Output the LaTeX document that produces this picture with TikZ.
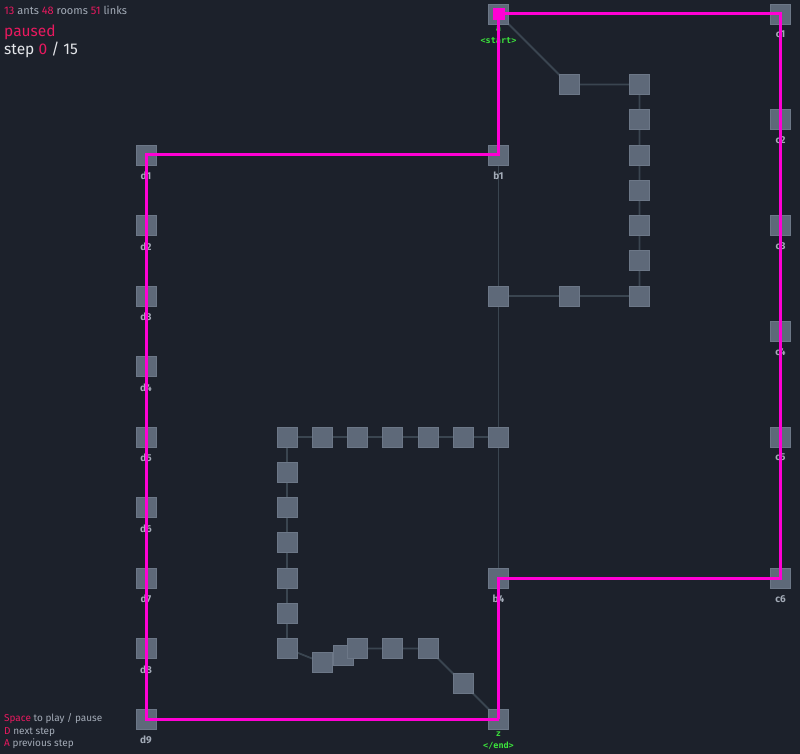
\documentclass[tikz,border=0pt]{standalone}
\usepackage{fontspec}
\setmainfont{Fira Sans}
\newfontfamily\termfont{DejaVu Sans Mono}
\usetikzlibrary{positioning}
\pgfdeclarelayer{canvas}
\pgfdeclarelayer{links}
\pgfsetlayers{canvas,links,main}

\definecolor{bgdark}{HTML}{1C212B}
\definecolor{roomfill}{HTML}{5E6979}
\definecolor{roomedge}{HTML}{6C7787}
\definecolor{linkgray}{HTML}{3A4550}
\definecolor{antpink}{HTML}{FF00D4}
\definecolor{hotpink}{HTML}{E8195F}
\definecolor{lblgray}{HTML}{A3ABB7}
\definecolor{termgreen}{HTML}{3CE63C}
\definecolor{txtwhite}{HTML}{E4E6EA}

\begin{document}
\begin{tikzpicture}[
  x=35.25pt, y=-35.25pt,
  room/.style={draw=roomedge, fill=roomfill, line width=0.8pt, minimum size=20pt, inner sep=0pt},
  lbl/.style={font=\bfseries\fontsize{10}{12}\selectfont, text=lblgray, inner sep=0pt},
  term/.style={font=\termfont\bfseries\fontsize{8.5}{12}\selectfont, text=termgreen, align=center, inner sep=0pt},
  link/.style={draw=linkgray, line width=1.8pt},
  route/.style={draw=antpink, line width=3pt, line join=miter},
  hud/.style={anchor=base west, inner sep=0pt, text=lblgray},
  label distance=6.5pt
]
\begin{pgfonlayer}{canvas}
\path[use as bounding box, fill=bgdark] (-146pt,14pt) rectangle (654pt,-740pt);
\end{pgfonlayer}

% status and help text
\node[hud, font=\fontsize{11}{13}\selectfont] (stats) at (-142pt,-1pt) {\textcolor{hotpink}{13} ants \textcolor{hotpink}{48} rooms \textcolor{hotpink}{51} links};
\node[hud, font=\fontsize{15.5}{18}\selectfont, text=hotpink] (state) at (-142pt,-23pt) {paused};
\node[hud, font=\fontsize{15.5}{18}\selectfont, text=txtwhite] (stepcount) at (-142pt,-41pt) {step \textcolor{hotpink}{0} / 15};
\node[hud, font=\fontsize{10}{12}\selectfont] (help1) at (-142pt,-707pt) {\textcolor{hotpink}{Space} to play / pause};
\node[hud, font=\fontsize{10}{12}\selectfont] (help2) at (-142pt,-720pt) {\textcolor{hotpink}{D} next step};
\node[hud, font=\fontsize{10}{12}\selectfont] (help3) at (-142pt,-732pt) {\textcolor{hotpink}{A} previous step};

% start and end
\node[room, label={[term, label distance=2pt]below:{a\\<start>}}] (a) at (10,0) {};
\node[room, label={[term, label distance=2pt]below:{z\\</end>}}] (z) at (10,20) {};

% right column
\node[room, label={[lbl]below:c1}] (c1) at (18,0) {};
\node[room, label={[lbl]below:c2}] (c2) at (18,3) {};
\node[room, label={[lbl]below:c3}] (c3) at (18,6) {};
\node[room, label={[lbl]below:c4}] (c4) at (18,9) {};
\node[room, label={[lbl]below:c5}] (c5) at (18,12) {};
\node[room, label={[lbl]below:c6}] (c6) at (18,16) {};

% left column
\node[room, label={[lbl]below:d1}] (d1) at (0,4) {};
\node[room, label={[lbl]below:d2}] (d2) at (0,6) {};
\node[room, label={[lbl]below:d3}] (d3) at (0,8) {};
\node[room, label={[lbl]below:d4}] (d4) at (0,10) {};
\node[room, label={[lbl]below:d5}] (d5) at (0,12) {};
\node[room, label={[lbl]below:d6}] (d6) at (0,14) {};
\node[room, label={[lbl]below:d7}] (d7) at (0,16) {};
\node[room, label={[lbl]below:d8}] (d8) at (0,18) {};
\node[room, label={[lbl]below:d9}] (d9) at (0,20) {};

% middle column
\node[room, label={[lbl]below:b1}] (b1) at (10,4) {};
\node[room] (b2) at (10,8) {};
\node[room] (b3) at (10,12) {};
\node[room, label={[lbl]below:b4}] (b4) at (10,16) {};

% upper loop
\node[room] (u1) at (12,2) {};
\node[room] (u2) at (14,2) {};
\node[room] (u3) at (14,3) {};
\node[room] (u4) at (14,4) {};
\node[room] (u5) at (14,5) {};
\node[room] (u6) at (14,6) {};
\node[room] (u7) at (14,7) {};
\node[room] (u8) at (14,8) {};
\node[room] (u9) at (12,8) {};

% lower loop
\node[room] (e1) at (4,12) {};
\node[room] (e2) at (5,12) {};
\node[room] (e3) at (6,12) {};
\node[room] (e4) at (7,12) {};
\node[room] (e5) at (8,12) {};
\node[room] (e6) at (9,12) {};
\node[room] (f1) at (4,13) {};
\node[room] (f2) at (4,14) {};
\node[room] (f3) at (4,15) {};
\node[room] (f4) at (4,16) {};
\node[room] (f5) at (4,17) {};
\node[room] (f6) at (4,18) {};
\node[room] (g1) at (5,18.4) {};
\node[room] (g2) at (5.6,18.2) {};
\node[room] (g3) at (6,18) {};
\node[room] (g4) at (7,18) {};
\node[room] (g5) at (8,18) {};
\node[room] (g6) at (9,19) {};

% links behind the rooms
\begin{pgfonlayer}{links}
\draw[link] (a.center) -- (u1.center) -- (u2.center) -- (u3.center) -- (u4.center) -- (u5.center) -- (u6.center) -- (u7.center) -- (u8.center) -- (u9.center) -- (b2.center);
\draw[link] (a.center) -- (b1.center) -- (b2.center) -- (b3.center) -- (b4.center) -- (z.center);
\draw[link] (b3.center) -- (e6.center) -- (e5.center) -- (e4.center) -- (e3.center) -- (e2.center) -- (e1.center);
\draw[link] (e1.center) -- (f1.center) -- (f2.center) -- (f3.center) -- (f4.center) -- (f5.center) -- (f6.center);
\draw[link] (f6.center) -- (g1.center) -- (g2.center) -- (g3.center) -- (g4.center) -- (g5.center) -- (g6.center) -- (z.center);
\end{pgfonlayer}

% paths taken by the ants
\draw[route] (a.center) -- (c1.center) -- (c6.center) -- (b4.center) -- (z.center);
\draw[route] (a.center) -- (b1.center) -- (d1.center) -- (d9.center) -- (z.center);
\node[fill=antpink, minimum size=12pt, inner sep=0pt] (ant) at (a) {};
\end{tikzpicture}
\end{document}
